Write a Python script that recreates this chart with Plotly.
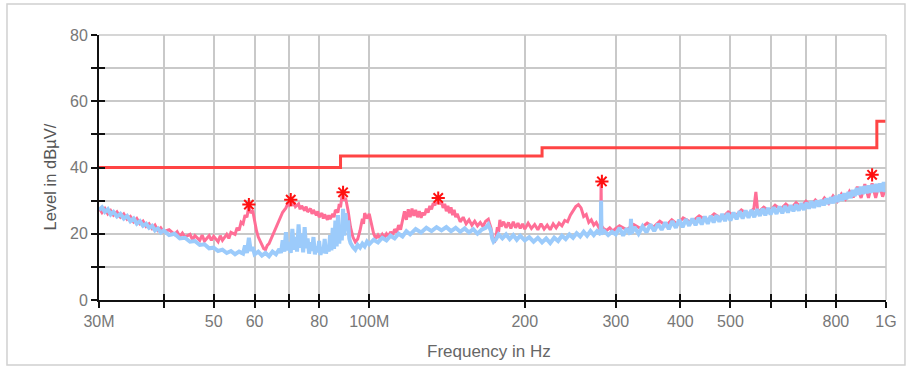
import plotly.graph_objects as go
import math

# ---------------- data (frequencies in MHz, levels in dBuV/m) ----------------
peak_f = [30, 30.4, 30.8, 31.2, 31.6, 32, 32.5, 33, 33.5, 34, 34.5, 35, 35.5, 36, 36.5, 37, 37.5,
          38, 38.5, 39, 39.5, 40, 41, 42, 42.5, 43, 43.5, 44, 45, 45.5, 46, 47, 47.5, 48, 49,
          49.5, 50, 51, 51.5, 52, 53, 53.5, 54, 55, 55.5, 56, 56.5, 57, 57.5, 58, 58.5, 59,
          59.5, 60, 60.5, 61, 62, 62.5, 63, 63.5, 64, 65, 66, 67, 68, 69, 69.5, 70, 70.5, 71,
          71.5, 72, 73, 73.5, 74, 75, 75.5, 76, 77, 77.5, 78, 79, 79.5, 80, 81, 81.5, 82, 83,
          83.5, 84, 85, 85.5, 86, 87, 87.5, 88, 88.5, 89, 89.5, 90, 91, 92, 93, 94, 95, 96,
          97, 97.5, 98, 99, 100, 101, 102, 103, 104, 105, 106, 107, 108, 109, 110, 111, 112,
          113, 114, 115, 116, 117, 118, 119, 120, 121, 122, 123, 124, 125, 126, 127, 128, 129,
          130, 131, 132, 133, 134, 135, 136, 137, 138, 139, 140, 141, 142, 143, 144, 145, 146,
          147, 148, 150, 152, 154, 156, 158, 160, 162, 164, 166, 168, 170, 171, 172, 173, 174,
          175, 176, 177, 178, 179, 180, 182, 184, 186, 188, 190, 192, 194, 196, 198, 200, 203,
          206, 209, 212, 215, 218, 221, 224, 227, 230, 233, 236, 239, 242, 245, 248, 251, 254,
          257, 260, 263, 266, 269, 272, 275, 278, 280.5, 281, 281.5, 284, 288, 292, 296, 300,
          305, 315, 325, 335, 345, 355, 365, 375, 385, 395, 405, 420, 435, 450, 465, 480, 495,
          510, 525, 540, 555, 560, 565, 580, 595, 610, 625, 640, 655, 670, 685, 700, 715, 730,
          745, 760, 775, 790, 805, 820, 835, 850, 865, 880, 895, 910, 925, 940, 955, 970, 985,
          1000]
peak_v = [27.8, 26.4, 27.6, 26.0, 27.0, 25.6, 26.6, 25.0, 26.0, 24.4, 25.2, 23.6, 24.6, 23.0,
          23.8, 22.2, 23.0, 21.6, 22.6, 21.0, 21.8, 20.6, 21.2, 19.8, 20.6, 19.2, 20.2, 19.0,
          19.8, 18.2, 19.4, 18.0, 19.6, 17.8, 19.4, 18.0, 19.2, 17.6, 19.4, 18.0, 19.8, 18.6,
          20.4, 19.8, 21.8, 21.0, 23.5, 23.0, 25.6, 25.0, 28.5, 26.2, 27.0, 23.5, 21.0, 19.0,
          16.8, 15.5, 15.2, 16.5, 17.0, 19.5, 21.5, 24.0, 26.5, 27.8, 29.0, 28.6, 30.0, 28.4,
          29.6, 28.2, 29.0, 27.4, 28.4, 27.0, 28.2, 26.6, 27.6, 26.0, 27.2, 25.6, 26.8, 25.0,
          26.2, 24.6, 25.8, 24.2, 25.6, 24.4, 26.0, 25.0, 27.2, 26.4, 29.0, 28.0, 31.0, 32.0,
          30.0, 30.8, 27.0, 22.0, 19.0, 17.5, 18.4, 21.0, 24.5, 23.0, 26.2, 24.6, 26.0, 23.0,
          20.0, 18.6, 19.6, 18.6, 19.8, 18.8, 20.0, 19.2, 20.6, 19.6, 21.4, 20.4, 22.6, 21.2,
          24.0, 26.8, 24.2, 27.4, 25.0, 27.6, 25.4, 27.2, 25.0, 26.8, 24.8, 26.4, 25.6, 27.6,
          26.4, 28.4, 27.4, 29.2, 28.6, 30.2, 30.6, 29.0, 29.6, 27.8, 29.0, 26.8, 28.4, 26.2,
          28.0, 25.6, 27.2, 25.0, 26.0, 23.6, 25.0, 23.0, 24.2, 22.6, 23.8, 22.4, 23.4, 22.2,
          23.8, 24.4, 23.0, 21.8, 19.5, 18.0, 17.8, 19.0, 22.0, 20.6, 24.2, 22.2, 23.6, 21.8,
          23.4, 21.6, 23.6, 21.8, 23.2, 21.6, 23.0, 21.4, 23.2, 21.6, 22.8, 21.2, 23.0, 21.4,
          22.6, 21.2, 23.0, 21.8, 23.2, 22.4, 24.0, 23.6, 25.6, 26.8, 28.2, 28.8, 27.8, 25.2,
          25.8, 23.4, 24.2, 22.6, 23.4, 22.0, 22.8, 35.5, 22.4, 21.6, 21.0, 21.8, 20.8, 21.6,
          22.4, 21.2, 22.8, 21.6, 23.2, 22.0, 23.8, 22.4, 24.2, 22.8, 24.8, 23.4, 25.4, 24.0,
          26.0, 24.6, 26.6, 25.2, 27.2, 25.8, 27.6, 32.6, 26.4, 28.0, 26.8, 28.6, 27.4, 29.0,
          27.6, 29.4, 28.0, 29.8, 28.4, 30.2, 28.8, 30.8, 29.2, 31.4, 29.8, 32.0, 30.4, 32.8,
          31.0, 34.2, 30.8, 35.0, 30.8, 35.2, 30.8, 35.0, 31.2, 34.0]

avg_f = [30, 30.4, 30.8, 31.2, 31.6, 32, 32.5, 33, 33.5, 34, 34.5, 35, 35.5, 36, 36.5, 37, 37.5,
         38, 38.5, 39, 39.5, 40, 41, 42, 43, 44, 45, 46, 47, 48, 49, 50, 51, 52, 53, 54, 55,
         56, 57, 57.5, 58, 58.5, 59, 59.5, 60, 61, 62, 63, 64, 65, 66, 67, 67.5, 68, 68.5, 69,
         69.5, 70, 70.5, 71, 71.5, 72, 72.5, 73, 73.5, 74, 74.5, 75, 75.5, 76, 76.5, 77, 77.5,
         78, 78.5, 79, 79.5, 80, 80.5, 81, 81.5, 82, 82.5, 83, 83.5, 84, 84.5, 85, 85.5, 86,
         86.5, 87, 87.5, 88, 88.5, 89, 89.5, 90, 90.5, 91, 91.5, 92, 93, 94, 95, 96, 97, 98,
         99, 100, 102, 104, 106, 108, 110, 112, 114, 116, 118, 120, 123, 126, 129, 132, 135,
         138, 141, 144, 147, 150, 153, 156, 159, 162, 165, 168, 170, 172, 173, 174, 176, 178,
         181, 184, 187, 190, 193, 196, 200, 204, 208, 212, 216, 220, 224, 228, 232, 236, 240,
         244, 248, 252, 256, 260, 264, 268, 272, 276, 280.5, 281, 281.5, 285, 290, 295, 300,
         305, 310, 315, 320, 321, 322, 326, 332, 338, 344, 350, 356, 362, 368, 374, 380, 386,
         392, 398, 404, 410, 416, 422, 428, 434, 440, 446, 452, 458, 464, 470, 476, 482, 488,
         494, 500, 507, 514, 521, 528, 535, 542, 549, 556, 563, 570, 577, 584, 591, 598, 606,
         614, 622, 630, 638, 646, 654, 662, 670, 678, 686, 694, 702, 710, 718, 726, 734, 742,
         750, 758, 766, 774, 782, 790, 798, 806, 814, 822, 830, 838, 846, 854, 862, 870, 878,
         886, 894, 902, 910, 918, 926, 934, 942, 950, 958, 966, 974, 982, 990, 996, 1000]
avg_v = [27.2, 28.0, 26.6, 27.4, 25.8, 26.6, 25.2, 26.0, 24.6, 25.4, 23.8, 24.6, 23.0, 23.8,
         22.4, 23.0, 21.8, 22.4, 21.0, 21.6, 20.4, 21.0, 19.6, 20.0, 18.6, 18.8, 17.6, 17.8,
         16.6, 16.8, 15.6, 15.8, 14.8, 15.2, 14.2, 14.8, 13.8, 14.6, 14.0, 16.5, 14.2, 18.8,
         14.8, 16.0, 13.8, 14.6, 13.4, 14.2, 13.2, 14.6, 13.8, 15.4, 14.2, 18.0, 14.6, 20.5,
         15.0, 17.5, 14.2, 21.5, 15.2, 19.0, 14.6, 22.8, 15.8, 20.0, 14.4, 22.0, 15.6, 18.6,
         14.0, 17.4, 14.8, 19.0, 13.8, 16.2, 14.4, 17.8, 13.6, 16.0, 14.2, 18.4, 14.0, 16.4,
         14.6, 19.6, 15.0, 21.8, 15.4, 24.0, 16.2, 25.6, 17.0, 22.0, 18.0, 27.5, 19.4, 26.2,
         21.0, 24.0, 18.5, 17.2, 16.0, 15.2, 16.6, 15.8, 17.0, 16.2, 17.6, 16.8, 18.2, 17.4,
         18.8, 18.0, 19.4, 18.6, 20.0, 19.2, 20.8, 19.8, 21.4, 20.4, 21.8, 20.8, 22.0, 21.0,
         22.0, 20.8, 21.8, 20.6, 21.6, 20.4, 21.4, 20.0, 21.2, 21.8, 22.8, 20.8, 18.5, 17.6,
         18.4, 19.8, 18.6, 19.8, 18.4, 19.6, 18.2, 19.4, 18.0, 19.0, 17.6, 18.8, 17.4, 18.6,
         17.2, 18.8, 17.8, 19.4, 18.4, 19.8, 18.8, 20.2, 19.2, 20.6, 19.4, 20.8, 19.6, 20.8,
         19.8, 30.0, 20.0, 20.8, 19.6, 20.6, 19.8, 21.8, 19.4, 21.6, 19.8, 24.5, 20.2, 22.0,
         20.0, 22.2, 20.4, 22.8, 20.8, 23.0, 21.2, 23.4, 21.4, 23.8, 21.8, 24.2, 22.0, 24.4,
         22.4, 24.6, 22.6, 24.8, 22.8, 25.2, 23.0, 25.4, 23.4, 25.6, 23.6, 26.0, 23.8, 26.2,
         24.0, 26.4, 24.4, 26.8, 24.6, 27.0, 24.8, 27.2, 25.0, 27.4, 25.4, 27.6, 25.6, 27.8,
         25.8, 28.0, 26.0, 28.2, 26.2, 28.4, 26.4, 28.6, 26.8, 28.8, 27.0, 29.2, 27.2, 29.4,
         27.6, 29.8, 27.8, 30.0, 28.2, 30.2, 28.6, 30.6, 29.0, 31.0, 29.2, 31.4, 29.6, 31.8,
         30.0, 32.2, 30.4, 32.6, 30.8, 33.2, 31.4, 33.8, 31.8, 34.2, 32.0, 34.4, 32.2, 34.6,
         32.4, 34.8, 32.6, 35.0, 32.6, 35.2, 32.8, 35.6, 32.6, 35.0]

limit_f = [30, 88, 88, 216, 216, 960, 960, 1000]
limit_v = [40, 40, 43.5, 43.5, 46, 46, 54, 54]

marker_f = [58.5, 70.5, 89, 136, 282, 940]
marker_v = [28.8, 30.3, 32.5, 30.8, 35.8, 37.8]

x_ticks = [30, 40, 50, 60, 70, 80, 100, 200, 300, 400, 500, 600, 700, 800, 1000]
x_tick_text = ["30M", "", "50", "60", "", "80", "100M", "200", "300", "400", "500", "", "", "800", "1G"]
y_ticks = [0, 10, 20, 30, 40, 50, 60, 70, 80]
y_tick_text = ["0", "", "20", "", "40", "", "60", "", "80"]

x_title = "Frequency in Hz"
y_title = "Level in dBµV/"

# ---------------- figure ----------------
FONT = "Liberation Sans, Arial, sans-serif"
xr = [math.log10(30), math.log10(1000)]
yr = [0, 80]

fig = go.Figure()
fig.add_trace(go.Scatter(x=peak_f, y=peak_v, mode="lines",
                         line=dict(color="#ff6e96", width=3), hoverinfo="skip"))
fig.add_trace(go.Scatter(x=avg_f, y=avg_v, mode="lines",
                         line=dict(color="#9ccbfb", width=4), hoverinfo="skip"))
fig.add_trace(go.Scatter(x=limit_f, y=limit_v, mode="lines", xaxis="x2", yaxis="y2",
                         line=dict(color="#ff4444", width=3), hoverinfo="skip"))
fig.add_trace(go.Scatter(x=marker_f, y=marker_v, mode="markers", xaxis="x2", yaxis="y2",
                         marker=dict(symbol="asterisk-open", size=11, color="#ff1010",
                                     line=dict(color="#ff1010", width=2)),
                         hoverinfo="skip"))

axis_common = dict(showline=True, linecolor="#111111", linewidth=2)
fig.update_layout(
    width=909, height=367,
    margin=dict(l=99, r=23, t=35, b=67),
    paper_bgcolor="white", plot_bgcolor="white",
    showlegend=False,
    font=dict(family=FONT, color="#777777"),
    xaxis=dict(type="log", range=xr, tickvals=x_ticks, ticktext=x_tick_text,
               ticks="outside", ticklen=6, tickwidth=2, tickcolor="#111111",
               showgrid=True, gridcolor="#c9c9c9", gridwidth=1.5,
               tickfont=dict(size=16, color="#777777"),
               zeroline=False, **axis_common),
    yaxis=dict(range=yr, tickvals=y_ticks, ticktext=y_tick_text,
               ticks="outside", ticklen=6, tickwidth=2, tickcolor="#111111",
               showgrid=True, gridcolor="#c9c9c9", gridwidth=1.5,
               tickfont=dict(size=16, color="#777777"),
               zeroline=False, **axis_common),
    xaxis2=dict(type="log", range=xr, overlaying="x", anchor="y2", side="bottom",
                tickvals=x_ticks, showticklabels=False, ticks="inside", ticklen=6,
                tickwidth=2, tickcolor="#111111", showgrid=False, zeroline=False,
                showline=False),
    yaxis2=dict(range=yr, overlaying="y", anchor="x2", side="left",
                tickvals=y_ticks, showticklabels=False, ticks="inside", ticklen=6,
                tickwidth=2, tickcolor="#111111", showgrid=False, zeroline=False,
                showline=False),
    annotations=[
        dict(text=x_title, xref="paper", yref="paper", x=0.496, y=-0.196,
             showarrow=False, xanchor="center", yanchor="middle",
             font=dict(family=FONT, size=17, color="#666666")),
        dict(text=y_title, xref="paper", yref="paper", x=-0.0623, y=0.466,
             showarrow=False, xanchor="center", yanchor="middle", textangle=-90,
             font=dict(family=FONT, size=16.5, color="#555555")),
    ],
    shapes=[
        dict(type="rect", xref="paper", yref="paper", x0=-0.1169, x1=1.0241,
             y0=-0.2453, y1=1.117, line=dict(color="#d0d0d0", width=1.5),
             fillcolor="rgba(0,0,0,0)", layer="below"),
        dict(type="line", xref="paper", yref="paper", x0=0, x1=1, y0=1, y1=1,
             line=dict(color="#c9c9c9", width=1.5)),
        dict(type="line", xref="paper", yref="paper", x0=1, x1=1, y0=0, y1=1,
             line=dict(color="#c9c9c9", width=1.5)),
    ],
)

fig.write_html("out.html", config={"displayModeBar": False},
               post_script="document.body.style.margin='0';")
